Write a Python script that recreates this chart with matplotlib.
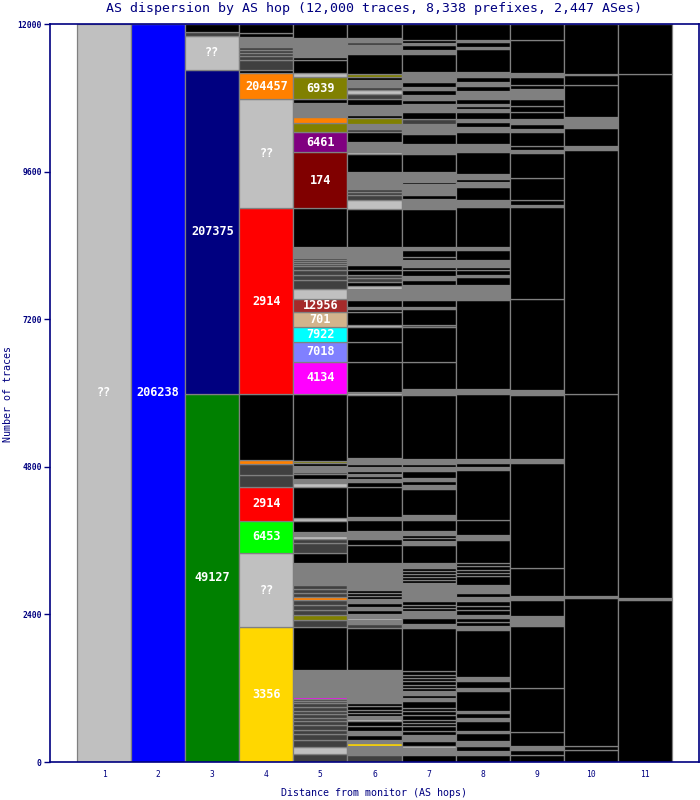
import matplotlib
matplotlib.use("Agg")
import matplotlib.pyplot as plt
import numpy as np

# ---------------- data (bottom -> top for every hop column) ----------------
title = "AS dispersion by AS hop (12,000 traces, 8,338 prefixes, 2,447 ASes)"
x_label = "Distance from monitor (AS hops)"
y_label = "Number of traces"
hops = [1, 2, 3, 4, 5, 6, 7, 8, 9, 10, 11]
y_ticks = [0, 2400, 4800, 7200, 9600, 12000]

palette = {
    "S": "#C0C0C0", "B": "#0000FF", "G": "#008000", "N": "#000080",
    "L": "#00FF00", "R": "#FF0000", "O": "#FF8000", "Y": "#FFD700",
    "V": "#808000", "P": "#800080", "M": "#800000", "W": "#A52A2A",
    "T": "#D2B48C", "C": "#00FFFF", "I": "#8080FF", "F": "#FF00FF",
    "D": "#404040", "g": "#808080", "k": "#000000",
}

col1_counts = [12000]
col1_colors = ["S"]
col1_labels = {0: "??"}

col2_counts = [12000]
col2_colors = ["B"]
col2_labels = {0: "206238"}

col3_counts = [5984, 5268, 553, 70, 125]
col3_colors = ["G", "N", "S", "D", "k"]
col3_labels = {0: "49127", 1: "207375", 2: "??"}

col4_counts = [2195, 1198, 533, 550, 190, 179, 65, 1073, 3020, 1772, 423,
               54, 163, 65, 50, 50, 50, 163, 54, 153]
col4_colors = ["Y", "S", "L", "R", "D", "D", "O", "k", "R", "S", "O",
               "k", "D", "D", "D", "D", "D", "g", "k", "k"]
col4_labels = {0: "3356", 1: "??", 2: "6453", 3: "2914", 8: "2914",
               9: "??", 10: "204457"}

col5_counts = [130, 119, 109, 98, 65, 76, 65, 54, 65, 54, 65, 65, 33, 33,
               33, 434, 704, 109, 81, 81, 81, 81, 44, 65, 65, 70, 353, 163,
               163, 65, 54, 70, 179, 39, 514, 65, 60, 81, 37, 93, 54, 33,
               1082,
               525, 325, 244, 234, 211, 163, 151, 81, 81, 65, 33, 33, 33, 28,
               189, 624, 911, 325, 146, 98, 228, 70, 353, 65, 216, 49, 81,
               114, 109, 231]
col5_colors = ["D", "S", "D", "D", "D", "D", "D", "D", "D", "D", "D", "D", "D", "D",
               "F", "g", "k", "D", "V", "D", "D", "D", "O", "D", "D", "D", "g", "k",
               "D", "D", "S", "g", "k", "S", "k", "S", "g", "k", "D", "g", "k", "V",
               "k",
               "F", "I", "C", "T", "W", "S", "D", "D", "D", "D", "D", "D", "D", "D",
               "g", "k", "M", "P", "V", "O", "g", "k", "V", "S", "k", "k", "g",
               "g", "g", "k"]
col5_labels = {43: "4134", 44: "7018", 45: "7922", 46: "701", 47: "12956",
               59: "174", 60: "6461", 65: "6939"}

col6_counts = [119, 109, 28, 54, 54, 81, 55, 86, 86, 28, 44, 54, 54, 54, 54,
               541, 678, 65, 70, 28, 44, 21, 70, 39, 70, 49, 16, 50, 50, 50,
               54, 379, 298, 98, 39, 81, 189, 49, 488, 81, 39, 54, 33, 54, 65,
               44, 93, 1030, 28, 26, 488, 325, 244, 28, 217, 44, 28, 119, 151,
               23, 42, 81, 54, 54, 81, 76, 81, 26, 190, 623, 136, 81, 54, 54,
               271, 298, 28, 26, 135, 163, 44, 91, 93, 54, 152, 98, 91, 54, 54,
               109, 54, 54, 325, 136, 54, 65, 228]
col6_colors = ["D", "g", "g", "Y", "g", "k", "g", "k", "k", "S", "g", "k", "k", "k", "k",
               "g", "k", "D", "g", "S", "g", "S", "k", "g", "k", "g", "V", "k", "k", "k",
               "g", "g", "k", "k", "g", "g", "k", "g", "k", "k", "g", "k", "g", "k", "g",
               "k", "g", "k", "S", "g", "k", "k", "k", "S", "k", "k", "g", "k", "g",
               "g", "S", "k", "D", "D", "k", "k", "g", "k", "g", "k", "S", "D", "D", "D",
               "g", "k", "S", "g", "g", "k", "D", "g", "V", "k", "g", "k", "D", "S", "D",
               "g", "k", "V", "k", "g", "D", "g", "k"]

col7_counts = [119, 109, 38, 71, 103, 70, 70, 54, 54, 81, 54, 54, 119, 44, 54,
               54, 54, 54, 54, 54, 54, 54, 704, 65, 98, 109, 54, 54, 54, 54,
               135, 109, 49, 49, 49, 49, 49, 81, 298, 54, 54, 54, 54, 189, 76,
               434, 54, 70, 39, 124, 65, 54, 81, 1030, 109, 433, 569, 28, 255,
               33, 119, 54, 81, 109, 81, 65, 98, 49, 109, 54, 109, 54, 623, 81,
               81, 65, 44, 135, 28, 163, 298, 163, 163, 163, 81, 109, 135, 54,
               81, 81, 54, 81, 163, 298, 54, 81, 44, 39, 265]
col7_colors = ["k", "g", "S", "k", "g", "k", "k", "k", "k", "k", "k", "k", "k", "g", "k",
               "g", "k", "k", "k", "k", "k", "k", "k", "g", "k", "g", "k", "k", "k", "g",
               "g", "g", "k", "k", "k", "k", "k", "g", "k", "g", "k", "k", "g", "k", "g",
               "k", "g", "k", "g", "k", "g", "k", "g", "k", "g", "k", "k", "D", "k",
               "g", "k", "g", "g", "g", "k", "g", "k", "k", "g", "k", "k", "g", "k", "g",
               "g", "k", "g", "g", "k", "g", "k", "g", "k", "g", "D", "k", "g", "k",
               "g", "k", "g", "k", "g", "k", "g", "k", "g", "k", "k"]

col8_counts = [119, 54, 81, 81, 135, 28, 163, 54, 81, 28, 325, 54, 109, 65,
               774, 54, 68, 68, 54, 81, 68, 68, 65, 70, 135, 135, 54, 54, 54,
               54, 379, 81, 244, 808, 44, 75, 70, 1046, 93, 1447, 54, 109, 70,
               135, 28, 81, 49, 109, 163, 54, 650, 109, 216, 81, 54, 81, 353,
               135, 190, 81, 81, 54, 109, 54, 54, 26, 81, 65, 70, 81, 65, 70,
               81, 379, 28, 81, 44, 255]
col8_colors = ["k", "g", "k", "g", "k", "g", "k", "g", "k", "g", "k", "g", "k", "g",
               "k", "g", "k", "k", "g", "k", "k", "k", "g", "k", "g", "k", "k", "k", "k",
               "k", "k", "g", "k", "k", "g", "k", "g", "k", "g", "k", "g", "g", "g",
               "k", "g", "k", "k", "g", "k", "g", "k", "g", "k", "g", "k", "g", "k",
               "g", "k", "g", "k", "g", "k", "g", "k", "g", "k", "g", "g", "k", "g", "k",
               "g", "k", "g", "k", "g", "k"]

col9_counts = [119, 81, 65, 217, 721, 1003, 54, 109, 271, 54, 461, 1707, 65,
               1046, 36, 36, 1490, 1491, 28, 81, 368, 407, 39, 70, 228, 44, 91,
               72, 108, 108, 108, 54, 54, 65, 54, 135, 70, 527, 263]
col9_colors = ["k", "k", "g", "k", "k", "k", "g", "g", "k", "g", "k", "k", "g",
               "k", "g", "g", "k", "k", "g", "k", "k", "k", "g", "k", "k", "g", "k",
               "g", "k", "k", "k", "g", "g", "g", "k", "k", "g", "k", "k"]

col10_counts = [190, 65, 2412, 25, 3293, 3963, 70, 293, 125, 54, 525, 152, 26, 807]
col10_colors = ["k", "k", "k", "g", "k", "k", "g", "k", "g", "g", "k", "k", "g", "k"]

col11_counts = [2634, 33, 8525, 808]
col11_colors = ["k", "g", "k", "k"]

columns = [
    (col1_counts, col1_colors, col1_labels),
    (col2_counts, col2_colors, col2_labels),
    (col3_counts, col3_colors, col3_labels),
    (col4_counts, col4_colors, col4_labels),
    (col5_counts, col5_colors, col5_labels),
    (col6_counts, col6_colors, {}),
    (col7_counts, col7_colors, {}),
    (col8_counts, col8_colors, {}),
    (col9_counts, col9_colors, {}),
    (col10_counts, col10_colors, {}),
    (col11_counts, col11_colors, {}),
]

# ---------------- drawing ----------------
NAVY = "#000080"
MONO = "DejaVu Sans Mono"

fig = plt.figure(figsize=(7, 8), dpi=100)
ax = fig.add_axes([50 / 700, 38 / 800, 649 / 700, 738 / 800])

for hop, (counts, codes, labels) in zip(hops, columns):
    counts = np.asarray(counts, dtype=float)
    bottoms = np.concatenate([[0], np.cumsum(counts)[:-1]])
    ax.bar(np.full(len(counts), hop), counts, bottom=bottoms, width=1.0,
           color=[palette[c] for c in codes], edgecolor="#808080",
           linewidth=0.9, align="center", zorder=2)
    for idx, text in labels.items():
        ax.text(hop, bottoms[idx] + counts[idx] / 2, text, ha="center",
                va="center", color="white", fontsize=8.6, fontweight="bold",
                family=MONO, zorder=3)

ax.set_xlim(0, 12)
ax.set_ylim(0, 12000)
ax.set_xticks(hops)
ax.set_xticklabels([str(h) for h in hops], family=MONO, fontsize=5.8,
                   color=NAVY)
ax.set_yticks(y_ticks)
ax.set_yticklabels([str(t) for t in y_ticks], family=MONO, fontsize=5.8,
                   color=NAVY, fontweight="bold")
ax.tick_params(axis="x", length=0, pad=6)
ax.tick_params(axis="y", length=4, width=1, color=NAVY, pad=2)
for sp in ax.spines.values():
    sp.set_color(NAVY)
    sp.set_linewidth(1.2)

fig.text(374 / 700, 1 - 8.5 / 800, title, ha="center", va="center",
         family=MONO, fontsize=9.5, color=NAVY)
fig.text(374 / 700, 1 - 793 / 800, x_label, ha="center", va="center",
         family=MONO, fontsize=7.2, color=NAVY)
fig.text(8 / 700, 1 - 394 / 800, y_label, ha="center", va="center",
         rotation=90, family=MONO, fontsize=7.2, color=NAVY)

fig.savefig("out.png", dpi=100)
